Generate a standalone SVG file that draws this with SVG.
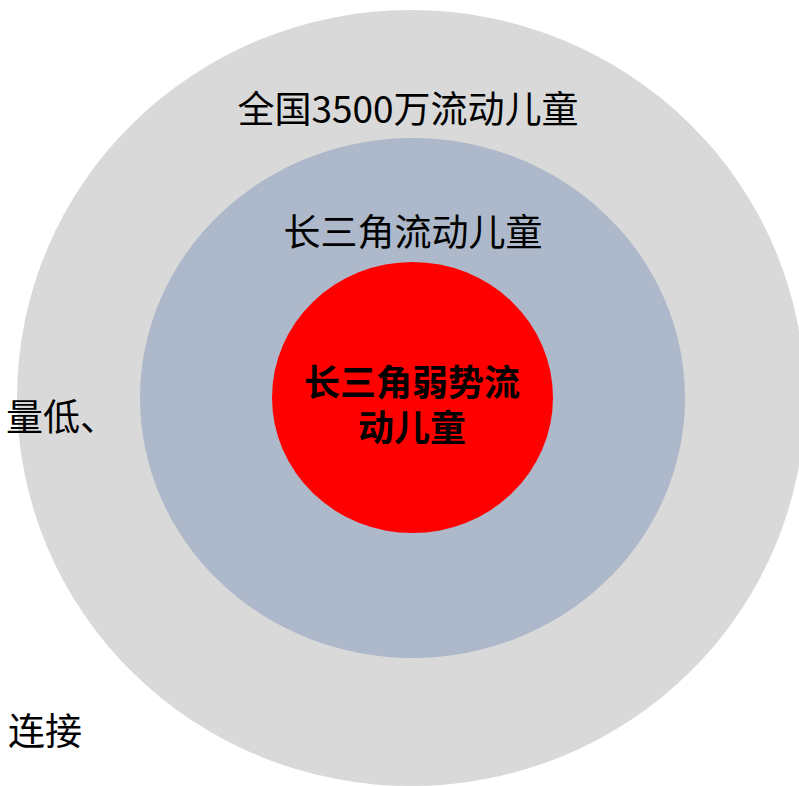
<svg xmlns="http://www.w3.org/2000/svg" width="799" height="786" viewBox="0 0 799 786">
<style>
.t{font-family:"Noto Sans CJK SC","Liberation Sans",sans-serif;font-size:37px;fill:#000;}
.c{text-anchor:middle;}
.b{font-weight:bold;font-size:36px;}
</style>
<rect width="799" height="786" fill="#fff"/>
<g id="outer">
<ellipse cx="411" cy="398" rx="394" ry="388" fill="#d9d9d9"/>
<text class="t c" x="408" y="123">全国3500万流动儿童</text>
</g>
<g id="middle">
<ellipse cx="412.5" cy="398" rx="272.5" ry="260" fill="#adb9ca"/>
<text class="t c" x="413" y="246">长三角流动儿童</text>
</g>
<g id="inner">
<ellipse cx="412.5" cy="397.5" rx="140.5" ry="135.5" fill="#ff0000"/>
<text class="t c b"><tspan x="412" y="396">长三角弱势流</tspan><tspan x="412" y="441">动儿童</tspan></text>
</g>
<g id="side-texts">
<text class="t" x="6" y="431">量低、</text>
<text class="t" x="8" y="745">连接</text>
</g>
<g id="connectors"></g>
</svg>
